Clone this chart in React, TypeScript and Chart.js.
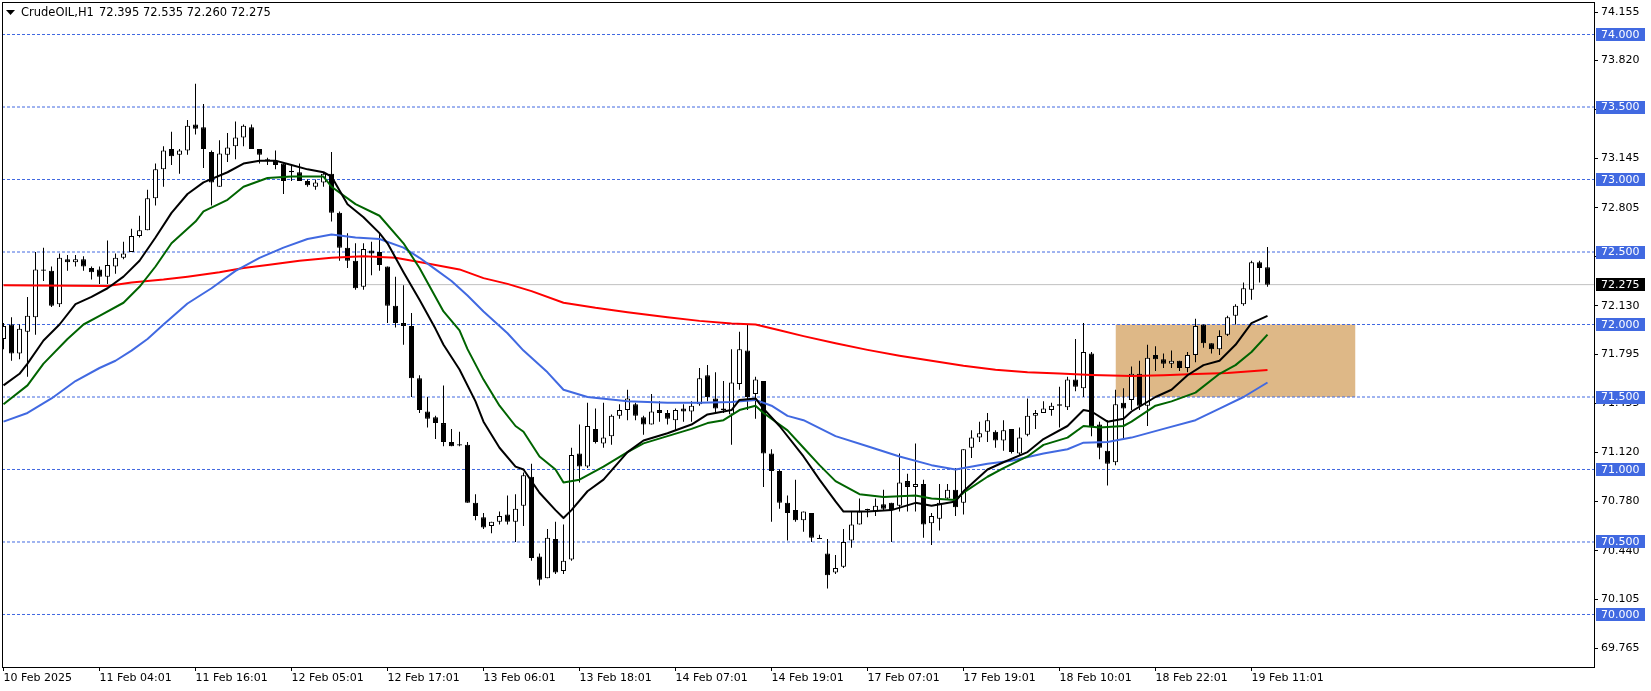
import React, { useEffect, useRef } from 'react';
import { Chart, registerables } from 'chart.js';

Chart.register(...registerables);

// ---------- data ----------
const symbolName = 'CrudeOIL,H1';

const opens = [
  71.90, 72.00, 71.80, 71.95, 72.05, 72.38, 72.37, 72.14, 72.45, 72.43,
  72.45, 72.39, 72.38, 72.33, 72.40, 72.46, 72.50, 72.61, 72.65, 72.87,
  73.07, 73.21, 73.17, 73.20, 73.38, 73.36, 73.19, 72.95, 73.17, 73.23,
  73.29, 73.36, 73.21, 73.14, 73.13, 73.11, 73.05, 73.05, 72.99, 72.95,
  72.98, 73.04, 72.77, 72.53, 72.44, 72.26, 72.51, 72.50, 72.40, 72.13,
  72.01, 71.99, 71.63, 71.40, 71.36, 71.32, 71.19, 71.175, 71.17, 70.77,
  70.67, 70.61, 70.64, 70.69, 70.64, 70.75, 70.95, 70.40, 70.25, 70.52,
  70.30, 70.38, 71.11, 71.02, 71.28, 71.18, 71.23, 71.37, 71.41, 71.45,
  71.36, 71.31, 71.41, 71.39, 71.34, 71.42, 71.40, 71.45, 71.65, 71.49,
  71.42, 71.38, 71.59, 71.82, 71.52, 71.61, 71.11, 70.99, 70.77, 70.72,
  70.65, 70.70, 70.52, 70.42, 70.29, 70.33, 70.51, 70.62, 70.72, 70.71,
  70.76, 70.77, 70.75, 70.92, 70.88, 70.90, 70.63, 70.66, 70.80, 70.86,
  70.77, 71.15, 71.22, 71.26, 71.26, 71.20, 71.28, 71.11, 71.24, 71.37,
  71.39, 71.41, 71.45, 71.43, 71.62, 71.56, 71.80, 71.31, 71.13, 71.05,
  71.46, 71.48, 71.66, 71.44, 71.79, 71.76, 71.73, 71.75, 71.70, 71.79,
  72.00, 71.87, 71.83, 71.93, 72.06, 72.14, 72.24, 72.43, 72.395,
];
const highs = [
  72.01, 72.05, 72.00, 72.19, 72.50, 72.53, 72.40, 72.49, 72.48, 72.48,
  72.47, 72.40, 72.40, 72.58, 72.49, 72.57, 72.66, 72.75, 72.93, 73.11,
  73.23, 73.33, 73.21, 73.41, 73.66, 73.52, 73.20, 73.27, 73.32, 73.40,
  73.38, 73.38, 73.21, 73.15, 73.20, 73.11, 73.10, 73.11, 73.00, 73.00,
  73.05, 73.19, 72.78, 72.63, 72.56, 72.56, 72.57, 72.63, 72.40, 72.33,
  72.27, 72.08, 71.65, 71.50, 71.37, 71.58, 71.28, 71.26, 71.19, 70.83,
  70.70, 70.64, 70.71, 70.82, 70.83, 70.98, 71.04, 70.42, 70.59, 70.64,
  70.62, 71.15, 71.31, 71.46, 71.42, 71.46, 71.38, 71.45, 71.55, 71.46,
  71.37, 71.52, 71.47, 71.41, 71.42, 71.45, 71.47, 71.70, 71.72, 71.67,
  71.61, 71.83, 71.95, 72.00, 71.64, 71.61, 71.14, 71.00, 70.82, 70.93,
  70.71, 70.70, 70.55, 70.52, 70.41, 70.59, 70.71, 70.80, 70.73, 70.80,
  70.86, 70.77, 71.11, 70.97, 71.18, 70.93, 70.70, 70.90, 70.90, 71.01,
  71.14, 71.27, 71.33, 71.39, 71.27, 71.34, 71.28, 71.29, 71.49, 71.41,
  71.47, 71.46, 71.57, 71.64, 71.90, 72.01, 71.81, 71.33, 71.34, 71.55,
  71.56, 71.71, 71.75, 71.86, 71.85, 71.80, 71.82, 71.75, 71.81, 72.04,
  72.00, 71.87, 71.96, 72.06, 72.14, 72.29, 72.44, 72.44, 72.535,
];
const lows = [
  71.83, 71.75, 71.76, 71.64, 71.93, 72.30, 72.12, 72.12, 72.37, 72.40,
  72.37, 72.31, 72.28, 72.28, 72.35, 72.45, 72.50, 72.60, 72.65, 72.82,
  72.95, 73.10, 73.04, 73.17, 73.31, 73.08, 72.82, 72.95, 73.12, 73.14,
  73.23, 73.21, 73.11, 73.10, 73.07, 72.90, 72.99, 72.99, 72.95, 72.93,
  72.95, 72.71, 72.44, 72.39, 72.24, 72.24, 72.34, 72.37, 72.01, 71.98,
  71.86, 71.50, 71.39, 71.29, 71.21, 71.16, 71.16, 71.16, 70.77, 70.65,
  70.59, 70.56, 70.62, 70.62, 70.50, 70.61, 70.37, 70.20, 70.25, 70.28,
  70.28, 70.37, 70.91, 71.01, 71.18, 71.15, 71.17, 71.35, 71.34, 71.34,
  71.24, 71.31, 71.33, 71.31, 71.27, 71.33, 71.33, 71.44, 71.47, 71.39,
  71.39, 71.17, 71.55, 71.41, 71.35, 70.88, 70.64, 70.73, 70.51, 70.64,
  70.57, 70.50, 70.52, 70.18, 70.28, 70.32, 70.46, 70.62, 70.67, 70.68,
  70.72, 70.50, 70.71, 70.71, 70.71, 70.53, 70.48, 70.58, 70.79, 70.68,
  70.69, 71.08, 71.19, 71.19, 71.15, 71.13, 71.11, 71.10, 71.23, 71.28,
  71.39, 71.37, 71.29, 71.41, 71.54, 71.50, 71.23, 71.07, 70.89, 71.03,
  71.21, 71.41, 71.41, 71.30, 71.68, 71.70, 71.70, 71.68, 71.67, 71.74,
  71.84, 71.80, 71.79, 71.92, 72.00, 72.13, 72.17, 72.29, 72.26,
];
const closes = [
  71.99, 71.80, 71.97, 72.06, 72.38, 72.37, 72.13, 72.46, 72.43, 72.45,
  72.40, 72.36, 72.33, 72.41, 72.46, 72.49, 72.61, 72.65, 72.87, 73.07,
  73.20, 73.16, 73.20, 73.37, 73.35, 73.21, 72.98, 73.18, 73.22, 73.29,
  73.37, 73.21, 73.17, 73.13, 73.10, 72.99, 73.06, 72.99, 72.96, 72.98,
  73.04, 72.77, 72.53, 72.44, 72.25, 72.52, 72.49, 72.41, 72.13, 72.01,
  71.99, 71.63, 71.41, 71.35, 71.32, 71.19, 71.16, 71.165, 70.77, 70.68,
  70.60, 70.64, 70.68, 70.64, 70.73, 70.96, 70.39, 70.24, 70.53, 70.29,
  70.37, 71.10, 71.02, 71.30, 71.19, 71.22, 71.37, 71.41, 71.49, 71.37,
  71.31, 71.40, 71.39, 71.35, 71.41, 71.40, 71.44, 71.63, 71.50, 71.42,
  71.41, 71.60, 71.83, 71.50, 71.62, 71.11, 70.99, 70.77, 70.70, 70.65,
  70.71, 70.53, 70.52, 70.27, 70.32, 70.50, 70.62, 70.71, 70.72, 70.75,
  70.73, 70.72, 70.91, 70.88, 70.90, 70.62, 70.68, 70.77, 70.86, 70.74,
  71.14, 71.22, 71.25, 71.34, 71.20, 71.27, 71.12, 71.22, 71.37, 71.39,
  71.42, 71.44, 71.44, 71.62, 71.57, 71.81, 71.30, 71.15, 71.04, 71.45,
  71.42, 71.66, 71.44, 71.77, 71.76, 71.73, 71.75, 71.70, 71.79, 71.99,
  71.87, 71.83, 71.92, 72.05, 72.13, 72.25, 72.43, 72.39, 72.275,
];

// moving averages: [bar index, price]
const maFast = [
  [0, 71.58], [2, 71.66], [3, 71.73], [5, 71.89], [7, 72.0], [9, 72.14], [11, 72.19], [13, 72.25],
  [15, 72.33], [17, 72.44], [19, 72.6], [21, 72.77], [23, 72.9], [25, 72.98], [28, 73.05], [30, 73.11],
  [32, 73.13], [34, 73.13], [36, 73.1], [38, 73.07], [40, 73.05], [41, 73.02], [43, 72.83], [45, 72.74],
  [47, 72.63], [48, 72.56], [50, 72.36], [52, 72.17], [54, 71.97], [55, 71.86], [57, 71.69], [59, 71.47],
  [60, 71.33], [62, 71.15], [64, 71.02], [65, 71.0], [67, 70.84], [69, 70.72], [70, 70.665], [71, 70.72],
  [73, 70.85], [75, 70.93], [78, 71.12], [80, 71.2], [83, 71.25], [86, 71.31], [88, 71.38], [91, 71.41],
  [92, 71.48], [94, 71.49], [95, 71.42], [97, 71.3], [100, 71.09], [102, 70.93], [104, 70.78], [105, 70.71],
  [108, 70.71], [111, 70.72], [114, 70.77], [116, 70.75], [119, 70.78], [120, 70.85], [123, 71.0], [125, 71.05],
  [128, 71.12], [130, 71.21], [133, 71.3], [135, 71.41], [136, 71.4], [138, 71.33], [140, 71.35], [141, 71.4],
  [144, 71.5], [146, 71.55], [148, 71.65], [150, 71.72], [152, 71.75], [154, 71.86], [156, 72.01], [158, 72.06],
];
const maMid = [
  [0, 71.45], [3, 71.58], [5, 71.73], [8, 71.9], [10, 72.0], [12, 72.06], [15, 72.15], [17, 72.26],
  [19, 72.4], [21, 72.56], [24, 72.71], [25, 72.78], [28, 72.86], [30, 72.95], [33, 73.01], [36, 73.02],
  [40, 73.02], [41, 72.95], [44, 72.83], [47, 72.75], [50, 72.56], [52, 72.39], [55, 72.09], [57, 71.96],
  [58, 71.83], [60, 71.62], [62, 71.44], [64, 71.3], [65, 71.26], [67, 71.09], [69, 71.0], [70, 70.91],
  [72, 70.93], [75, 71.02], [78, 71.12], [80, 71.18], [83, 71.23], [86, 71.28], [88, 71.32], [90, 71.34],
  [92, 71.41], [94, 71.44], [95, 71.39], [98, 71.27], [100, 71.15], [102, 71.03], [104, 70.92], [107, 70.83],
  [110, 70.81], [114, 70.82], [116, 70.8], [119, 70.79], [120, 70.84], [123, 70.95], [125, 71.01], [128, 71.09],
  [130, 71.17], [133, 71.22], [135, 71.3], [137, 71.29], [140, 71.3], [141, 71.33], [144, 71.44], [146, 71.47],
  [149, 71.53], [152, 71.66], [154, 71.72], [156, 71.81], [158, 71.93],
];
const maSlow = [
  [0, 71.33], [3, 71.39], [6, 71.49], [9, 71.61], [12, 71.7], [14, 71.75], [16, 71.82], [18, 71.9],
  [20, 72.0], [23, 72.145], [26, 72.25], [29, 72.37], [32, 72.46], [35, 72.53], [38, 72.59], [41, 72.62],
  [44, 72.6], [47, 72.59], [50, 72.53], [52, 72.46], [54, 72.38], [56, 72.3], [58, 72.2], [60, 72.09],
  [63, 71.94], [65, 71.82], [68, 71.67], [70, 71.55], [73, 71.5], [78, 71.47], [83, 71.46], [87, 71.46],
  [91, 71.465], [94, 71.48], [96, 71.44], [98, 71.37], [100, 71.34], [104, 71.23], [108, 71.16], [112, 71.09],
  [116, 71.03], [119, 71.0], [123, 71.04], [126, 71.06], [130, 71.11], [133, 71.14], [135, 71.185], [138, 71.19],
  [141, 71.22], [145, 71.28], [149, 71.34], [152, 71.42], [155, 71.5], [158, 71.6],
];
const maLong = [
  [0, 72.27], [13, 72.265], [16, 72.29], [20, 72.31], [23, 72.33], [27, 72.36], [30, 72.39], [33, 72.41],
  [37, 72.44], [41, 72.46], [45, 72.47], [49, 72.46], [53, 72.42], [57, 72.38], [60, 72.32], [63, 72.28],
  [66, 72.23], [70, 72.15], [74, 72.115], [78, 72.085], [83, 72.05], [87, 72.025], [91, 72.007], [94, 72.0],
  [97, 71.96], [100, 71.92], [104, 71.87], [108, 71.825], [112, 71.785], [116, 71.75], [120, 71.716], [124, 71.688],
  [128, 71.67], [132, 71.662], [136, 71.652], [141, 71.644], [145, 71.65], [149, 71.658], [153, 71.665], [158, 71.687],
];

const xTickBars = [0, 12, 24, 36, 48, 60, 72, 84, 96, 108, 120, 132, 144, 156];
const xTickLabels = [
  '10 Feb 2025', '11 Feb 04:01', '11 Feb 16:01', '12 Feb 05:01', '12 Feb 17:01', '13 Feb 06:01', '13 Feb 18:01',
  '14 Feb 07:01', '14 Feb 19:01', '17 Feb 07:01', '17 Feb 19:01', '18 Feb 10:01', '18 Feb 22:01', '19 Feb 11:01',
];
const yTickValues = [74.155, 73.82, 73.48, 73.145, 72.805, 72.47, 72.13, 71.795, 71.455, 71.12, 70.78, 70.44, 70.105, 69.765];
const levelValues = [74.0, 73.5, 73.0, 72.5, 72.0, 71.5, 71.0, 70.5, 70.0];
const zoneBars = [139, 169];
const zonePrices = [71.5, 72.0];

// ---------- view settings ----------
const X_MIN = -0.1875;
const X_MAX = 198.8125;
const Y_MAX = 74.22414;
const Y_MIN = 69.63793;
const FONT = '"DejaVu Sans", sans-serif';
const LEVEL_COLOR = '#4169E1';

const overlayPlugin = {
  id: 'mt4Overlay',
  afterDraw(chart: any) {
    const { ctx, chartArea } = chart;
    const yScale = chart.scales.y;
    ctx.save();
    // frame
    ctx.strokeStyle = '#000';
    ctx.lineWidth = 1;
    ctx.strokeRect(
      Math.floor(chartArea.left) + 0.5,
      Math.floor(chartArea.top) + 0.5,
      Math.round(chartArea.right - chartArea.left),
      Math.round(chartArea.bottom - chartArea.top)
    );
    ctx.font = '11px ' + FONT;
    ctx.textBaseline = 'middle';
    ctx.textAlign = 'left';
    const bx = Math.round(chartArea.right) + 2;
    const drawBox = (v: number, bg: string) => {
      const py = yScale.getPixelForValue(v);
      ctx.fillStyle = bg;
      ctx.fillRect(bx, Math.round(py - 6.5), 49, 13);
      ctx.fillStyle = '#fff';
      ctx.fillText(v.toFixed(3), bx + 5, py + 0.5);
    };
    levelValues.forEach((v) => drawBox(v, LEVEL_COLOR));
    drawBox(closes[closes.length - 1], '#000');
    // header
    const n = closes.length - 1;
    ctx.fillStyle = '#000';
    ctx.beginPath();
    ctx.moveTo(6, 10);
    ctx.lineTo(15, 10);
    ctx.lineTo(10.5, 15);
    ctx.closePath();
    ctx.fill();
    ctx.font = '11.5px ' + FONT;
    ctx.fillText(symbolName, 21, 13);
    ctx.fillText(
      [opens[n], highs[n], lows[n], closes[n]].map((v) => v.toFixed(3)).join(' '),
      99,
      13
    );
    ctx.restore();
  },
};

function buildConfig(): any {
  const idx = opens.map((_, i) => i);
  const bodyData = idx.map((i) => ({ x: i, y: [Math.min(opens[i], closes[i]), Math.max(opens[i], closes[i])] }));
  const wickData = idx.map((i) => ({ x: i, y: [lows[i], highs[i]] }));
  const bodyColors = idx.map((i) => (closes[i] >= opens[i] ? '#ffffff' : '#000000'));
  const toXY = (arr: number[][]) => arr.map(([x, y]) => ({ x, y }));
  const hline = (v: number) => [{ x: X_MIN, y: v }, { x: X_MAX, y: v }];
  const lastClose = closes[closes.length - 1];

  const lineBase = { type: 'line', pointRadius: 0, tension: 0, fill: false, borderJoinStyle: 'round' };

  const datasets: any[] = [
    { ...lineBase, data: toXY(maFast), borderColor: '#000000', borderWidth: 2, order: 1 },
    { ...lineBase, data: toXY(maMid), borderColor: '#006400', borderWidth: 2, order: 2 },
    { ...lineBase, data: toXY(maSlow), borderColor: '#4169E1', borderWidth: 2, order: 3 },
    { ...lineBase, data: toXY(maLong), borderColor: '#FF0000', borderWidth: 2, order: 4 },
    {
      type: 'bar', data: bodyData, backgroundColor: bodyColors, borderColor: '#000000', borderWidth: 1,
      borderSkipped: false, barThickness: 5, grouped: false, minBarLength: 1, inflateAmount: 0, order: 5,
    },
    {
      type: 'bar', data: wickData, backgroundColor: '#000000', borderWidth: 0, barThickness: 1,
      grouped: false, inflateAmount: 0, order: 6,
    },
    { ...lineBase, data: hline(lastClose), borderColor: '#C0C0C0', borderWidth: 1, order: 7 },
    ...levelValues.map((v) => ({
      ...lineBase, data: hline(v), borderColor: LEVEL_COLOR, borderWidth: 1, borderDash: [3, 2], order: 8,
    })),
    {
      ...lineBase,
      data: [{ x: zoneBars[0], y: zonePrices[1] }, { x: zoneBars[1], y: zonePrices[1] }],
      fill: { value: zonePrices[0] },
      backgroundColor: '#DEB887',
      borderWidth: 0,
      borderColor: 'rgba(0,0,0,0)',
      order: 9,
    },
  ];

  const tickFont = { family: FONT, size: 11 };

  return {
    type: 'bar',
    data: { datasets },
    plugins: [overlayPlugin],
    options: {
      responsive: false,
      animation: false,
      events: [],
      layout: { padding: { left: 2, top: 2, right: 0, bottom: 0 } },
      plugins: { legend: { display: false }, tooltip: { enabled: false }, title: { display: false } },
      scales: {
        x: {
          type: 'linear',
          min: X_MIN,
          max: X_MAX,
          offset: false,
          grid: { display: true, drawOnChartArea: false, drawTicks: true, tickLength: 4, color: '#000', offset: false },
          border: { display: false },
          ticks: {
            autoSkip: false,
            maxRotation: 0,
            minRotation: 0,
            align: 'start',
            padding: 1,
            color: '#000',
            font: tickFont,
            callback: (v: any) => {
              const j = xTickBars.indexOf(Number(v));
              return j >= 0 ? xTickLabels[j] : '';
            },
          },
          afterBuildTicks: (s: any) => {
            s.ticks = xTickBars.map((v) => ({ value: v }));
          },
          afterFit: (s: any) => {
            s.height = 24;
            s.paddingLeft = 0;
            s.paddingRight = 0;
          },
        },
        y: {
          type: 'linear',
          position: 'right',
          min: Y_MIN,
          max: Y_MAX,
          grid: { display: true, drawOnChartArea: false, drawTicks: true, tickLength: 4, color: '#000' },
          border: { display: false },
          ticks: {
            padding: 3,
            color: '#000',
            font: tickFont,
            callback: (v: any) => Number(v).toFixed(3),
          },
          afterBuildTicks: (s: any) => {
            s.ticks = yTickValues.map((v) => ({ value: v }));
          },
          afterFit: (s: any) => {
            s.width = 57;
            s.paddingTop = 0;
            s.paddingBottom = 0;
          },
        },
      },
    },
  };
}

export default function App() {
  const canvasRef = useRef<HTMLCanvasElement | null>(null);
  useEffect(() => {
    if (!canvasRef.current) return;
    const chart = new Chart(canvasRef.current, buildConfig());
    return () => chart.destroy();
  }, []);
  return (
    <div style={{ position: 'fixed', left: 0, top: 0, width: 1651, height: 691, background: '#ffffff' }}>
      <canvas ref={canvasRef} width={1651} height={691} style={{ display: 'block' }} />
    </div>
  );
}
